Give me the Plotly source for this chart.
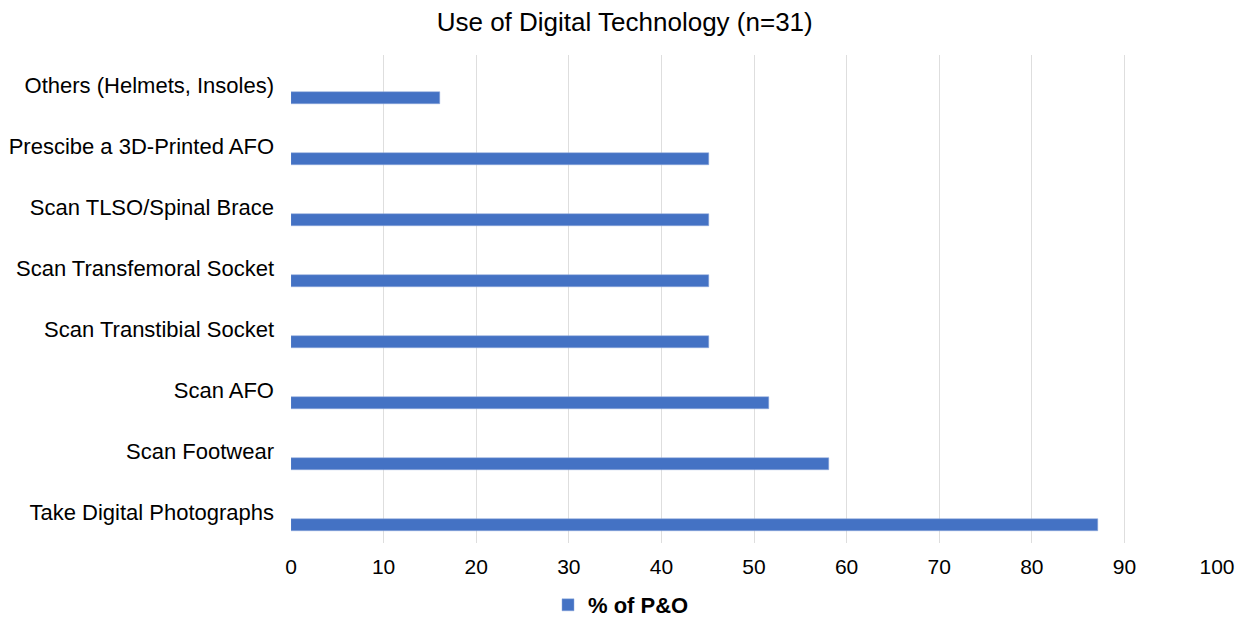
import plotly.graph_objects as go

categories = [
    "Take Digital Photographs",
    "Scan Footwear",
    "Scan AFO",
    "Scan Transtibial Socket",
    "Scan Transfemoral Socket",
    "Scan TLSO/Spinal Brace",
    "Prescibe a 3D-Printed AFO",
    "Others (Helmets, Insoles)",
]
values = [87.1, 58.06, 51.61, 45.16, 45.16, 45.16, 45.16, 16.13]
series_name = "% of P&O"
x_ticks = list(range(0, 101, 10))

FONT = "Liberation Sans, Arial, sans-serif"

fig = go.Figure()
fig.add_trace(go.Bar(
    y=categories, x=values, orientation="h", name=series_name,
    marker=dict(color="#4472C4", line=dict(color="#8FAADC", width=0.5)),
    width=0.197, offset=-0.303, showlegend=True,
))

fig.update_layout(
    width=1242, height=617,
    margin=dict(l=291, r=25, t=55, b=74, autoexpand=False),
    paper_bgcolor="white", plot_bgcolor="white",
    font=dict(family=FONT, size=22, color="#000000"),
    title=dict(text="Use of Digital Technology (n=31)", x=0.503, xref="container",
               xanchor="center", y=1 - 22/617, yref="container", yanchor="middle",
               font=dict(size=26, color="#000000", family=FONT)),
    bargap=0,
    xaxis=dict(range=[0, 100], tickvals=x_ticks, showgrid=True, gridcolor="#DEDEDE",
               gridwidth=1, zeroline=False, showline=False, ticks="",
               ticklabelstandoff=9, tickfont=dict(size=21), fixedrange=True,
               automargin=False),
    yaxis=dict(type="category", categoryorder="array", categoryarray=categories,
               range=[-0.5, 7.5], showgrid=False, zeroline=False, showline=False,
               ticks="", ticklabelstandoff=16, tickfont=dict(size=22),
               automargin=False),
    legend=dict(orientation="h", x=0.5, xref="container", xanchor="center",
                y=12/617, yref="container", yanchor="middle",
                font=dict(size=22, family=FONT, weight="bold"), itemwidth=30),
)

fig.write_html("out.html")
